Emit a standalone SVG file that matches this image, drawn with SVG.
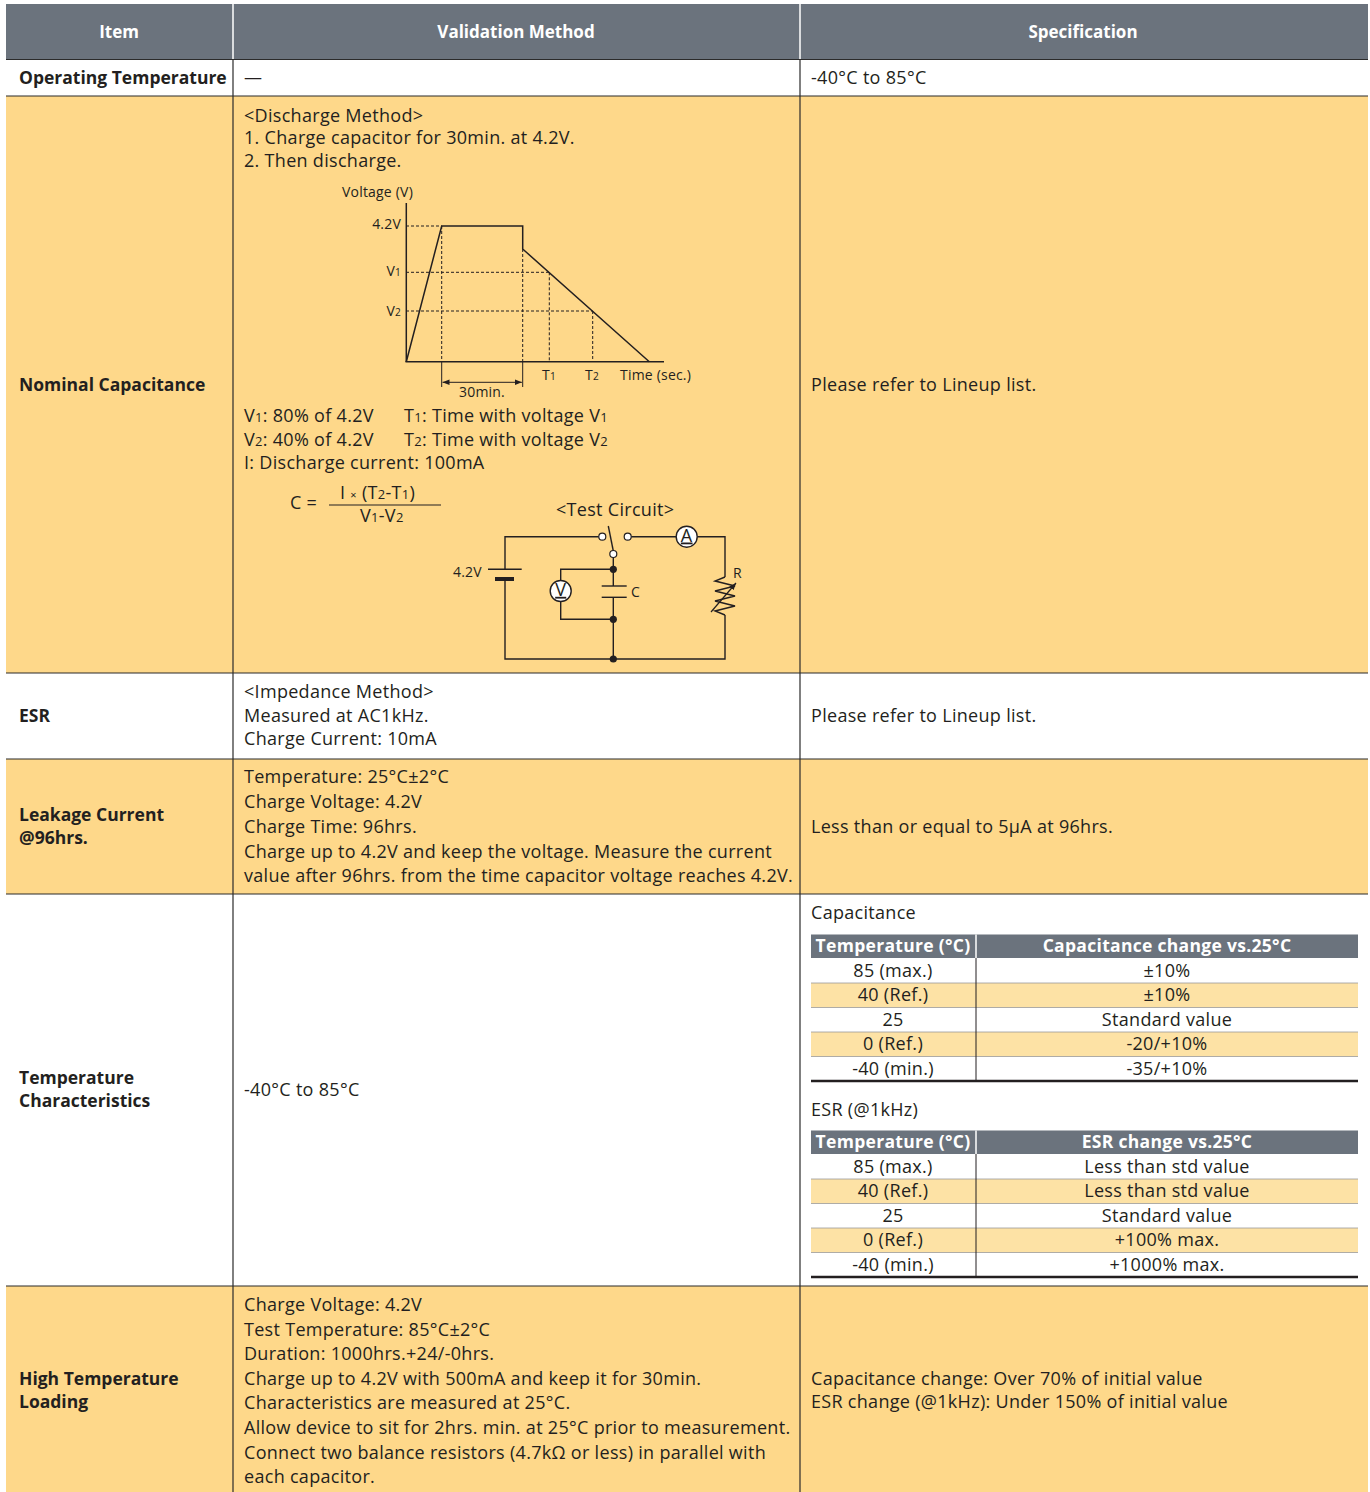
<svg xmlns="http://www.w3.org/2000/svg" width="1370" height="1492" viewBox="0 0 1370 1492">
<defs>
<style>
text{font-family:"Open Sans","Liberation Sans",Arial,sans-serif;fill:#231f20;font-size:18px;letter-spacing:0.3px}
.b{font-weight:bold;font-size:17.5px;letter-spacing:0}
.h{font-weight:bold;fill:#fff;font-size:17px;letter-spacing:0;text-anchor:middle}
.th{font-weight:bold;fill:#fff;font-size:17.5px;text-anchor:middle}
.c{text-anchor:middle}
.s{font-size:14px;letter-spacing:0.2px}
.sub{font-size:0.72em}
.grid{stroke:#2b2b2b;stroke-width:1.2;fill:none}
.ln{stroke:#231f20;stroke-width:1.5;fill:none}
.dash{stroke:#231f20;stroke-width:1;stroke-dasharray:3 2;fill:none}
.w{stroke:#231f20;stroke-width:1.4;fill:none}
.row{stroke:#9a9a9a;stroke-width:0.8}
</style>
<marker id="ah" viewBox="0 0 10 10" refX="10" refY="5" markerWidth="7" markerHeight="7" orient="auto-start-reverse" markerUnits="userSpaceOnUse"><path d="M0,1 L10,5 L0,9 z" fill="#231f20"/></marker>
</defs>
<rect width="1370" height="1492" fill="#fff"/>
<!-- row backgrounds -->
<rect x="6" y="4" width="1362" height="55" fill="#6b737d"/>
<rect x="6" y="96" width="1362" height="577" fill="#fed88a"/>
<rect x="6" y="759" width="1362" height="135" fill="#fed88a"/>
<rect x="6" y="1286" width="1362" height="206" fill="#fed88a"/>
<!-- grid -->
<g id="grid">
<line x1="233" y1="4" x2="233" y2="59" stroke="#fff" stroke-width="1.5"/>
<line x1="800" y1="4" x2="800" y2="59" stroke="#fff" stroke-width="1.5"/>
<line class="grid" x1="233" y1="59" x2="233" y2="1492"/>
<line class="grid" x1="800" y1="59" x2="800" y2="1492"/>
<line class="grid" x1="6" y1="59.5" x2="1368" y2="59.5"/>
<line class="grid" x1="6" y1="96" x2="1368" y2="96"/>
<line class="grid" x1="6" y1="673" x2="1368" y2="673"/>
<line class="grid" x1="6" y1="759" x2="1368" y2="759"/>
<line class="grid" x1="6" y1="894" x2="1368" y2="894"/>
<line class="grid" x1="6" y1="1286" x2="1368" y2="1286"/>
</g>
<!-- header -->
<g id="header">
<text class="h" x="119" y="38">Item</text>
<text class="h" x="516" y="38">Validation Method</text>
<text class="h" x="1083" y="38">Specification</text>
</g>
<g id="row-operating">
<text class="b" x="19" y="84">Operating Temperature</text>
<text x="244" y="84">—</text>
<text x="811" y="84">-40°C to 85°C</text>
</g>
<g id="row-nominal">
<text class="b" x="19" y="391">Nominal Capacitance</text>
<text x="244" y="122">&lt;Discharge Method&gt;</text>
<text x="244" y="144">1. Charge capacitor for 30min. at 4.2V.</text>
<text x="244" y="167">2. Then discharge.</text>
<text x="811" y="391">Please refer to Lineup list.</text>
</g>
<g id="graph">
<text class="s" x="342" y="197">Voltage (V)</text>
<text class="s" x="401" y="229" text-anchor="end">4.2V</text>
<text class="s" x="401" y="276" text-anchor="end">V<tspan class="sub">1</tspan></text>
<text class="s" x="401" y="316" text-anchor="end">V<tspan class="sub">2</tspan></text>
<text class="s" x="542" y="380">T<tspan class="sub">1</tspan></text>
<text class="s" x="585" y="380">T<tspan class="sub">2</tspan></text>
<text class="s" x="620" y="380">Time (sec.)</text>
<text class="s c" x="482" y="397">30min.</text>
<line class="dash" x1="406" y1="226" x2="441.7" y2="226"/>
<line class="dash" x1="406" y1="272.3" x2="549.3" y2="272.3"/>
<line class="dash" x1="406" y1="311" x2="592.7" y2="311"/>
<line class="dash" x1="441.7" y1="226" x2="441.7" y2="362"/>
<line class="dash" x1="522.7" y1="249" x2="522.7" y2="362"/>
<line class="dash" x1="549.3" y1="272.3" x2="549.3" y2="362"/>
<line class="dash" x1="592.7" y1="311" x2="592.7" y2="362"/>
<line class="ln" x1="406.3" y1="203" x2="406.3" y2="362"/>
<line class="ln" x1="405.5" y1="361.7" x2="664" y2="361.7"/>
<polyline class="ln" points="406.3,361.7 441.7,226 522.7,226 522.7,249 649.3,361.7"/>
<line stroke="#231f20" stroke-width="1" x1="441.7" y1="362" x2="441.7" y2="387"/>
<line stroke="#231f20" stroke-width="1" x1="522.7" y1="362" x2="522.7" y2="387"/>
<line stroke="#231f20" stroke-width="1" x1="442.5" y1="382.3" x2="521.9" y2="382.3" marker-start="url(#ah)" marker-end="url(#ah)"/>
</g>
<g id="legend">
<text x="244" y="422">V<tspan class="sub">1</tspan>: 80% of 4.2V</text>
<text x="404" y="422">T<tspan class="sub">1</tspan>: Time with voltage V<tspan class="sub">1</tspan></text>
<text x="244" y="446">V<tspan class="sub">2</tspan>: 40% of 4.2V</text>
<text x="404" y="446">T<tspan class="sub">2</tspan>: Time with voltage V<tspan class="sub">2</tspan></text>
<text x="244" y="469">I: Discharge current: 100mA</text>
</g>
<g id="formula">
<text x="290" y="509">C =</text>
<text x="340" y="499">I <tspan font-size="11">×</tspan> (T<tspan class="sub">2</tspan>-T<tspan class="sub">1</tspan>)</text>
<line stroke="#231f20" stroke-width="1.2" x1="329" y1="505" x2="441" y2="505"/>
<text x="360" y="522">V<tspan class="sub">1</tspan>-V<tspan class="sub">2</tspan></text>
</g>
<g id="circuit">
<text x="556" y="516">&lt;Test Circuit&gt;</text>
<text class="s" x="453" y="577">4.2V</text>
<text class="s" x="733" y="578">R</text>
<text class="s" x="631" y="597">C</text>
<polyline class="w" points="598.8,536.7 505,536.7 505,569.3"/>
<line class="w" x1="488" y1="569.3" x2="521.7" y2="569.3"/>
<line stroke="#231f20" stroke-width="4" x1="495" y1="579" x2="514" y2="579"/>
<polyline class="w" points="505,579 505,659 725,659 725,615"/>
<line class="w" x1="631.2" y1="536.7" x2="676.2" y2="536.7"/>
<polyline class="w" points="697.2,536.7 725,536.7 725,577"/>
<polyline class="w" points="725,577 715,581 735,586 715,591 735,596 715,601 735,606 715,611 725,615"/>
<line stroke="#231f20" stroke-width="1.2" x1="711" y1="612" x2="736" y2="583" marker-end="url(#ah)"/>
<line class="w" x1="613.3" y1="551" x2="608.3" y2="526"/>
<line class="w" x1="613.3" y1="557.5" x2="613.3" y2="586"/>
<line class="w" x1="601.7" y1="586" x2="626.7" y2="586"/>
<line class="w" x1="601.7" y1="597.3" x2="626.7" y2="597.3"/>
<line class="w" x1="613.3" y1="597.3" x2="613.3" y2="659"/>
<polyline class="w" points="613.3,569.3 560.7,569.3 560.7,580.5"/>
<polyline class="w" points="560.7,601.5 560.7,619.3 613.3,619.3"/>
<circle cx="602.3" cy="536.7" r="3.5" fill="#fff" stroke="#231f20" stroke-width="1.2"/>
<circle cx="627.7" cy="536.7" r="3.5" fill="#fff" stroke="#231f20" stroke-width="1.2"/>
<circle cx="613.3" cy="554" r="3.5" fill="#fff" stroke="#231f20" stroke-width="1.2"/>
<circle cx="613.3" cy="569.3" r="3.6" fill="#231f20"/>
<circle cx="613.3" cy="619.3" r="3.6" fill="#231f20"/>
<circle cx="613.3" cy="659" r="3.6" fill="#231f20"/>
<circle cx="686.7" cy="536.7" r="10.5" fill="#fff" stroke="#231f20" stroke-width="1.4"/>
<text class="c" x="686.7" y="541.5" font-size="12" letter-spacing="0" text-decoration="underline">A</text>
<circle cx="560.7" cy="591" r="10.5" fill="#fff" stroke="#231f20" stroke-width="1.4"/>
<text class="c" x="560.7" y="595.8" font-size="12" letter-spacing="0" text-decoration="underline">V</text>
</g>
<g id="row-esr">
<text class="b" x="19" y="722">ESR</text>
<text x="244" y="698">&lt;Impedance Method&gt;</text>
<text x="244" y="722">Measured at AC1kHz.</text>
<text x="244" y="745">Charge Current: 10mA</text>
<text x="811" y="722">Please refer to Lineup list.</text>
</g>
<g id="row-leakage">
<text class="b" x="19" y="821">Leakage Current</text>
<text class="b" x="19" y="844">@96hrs.</text>
<text x="244" y="783">Temperature: 25°C±2°C</text>
<text x="244" y="808">Charge Voltage: 4.2V</text>
<text x="244" y="833">Charge Time: 96hrs.</text>
<text x="244" y="858">Charge up to 4.2V and keep the voltage. Measure the current</text>
<text x="244" y="882">value after 96hrs. from the time capacitor voltage reaches 4.2V.</text>
<text x="811" y="833">Less than or equal to 5μA at 96hrs.</text>
</g>
<g id="row-temp">
<text class="b" x="19" y="1084">Temperature</text>
<text class="b" x="19" y="1107">Characteristics</text>
<text x="244" y="1096">-40°C to 85°C</text>
<text x="811" y="919">Capacitance</text>
<text x="811" y="1116">ESR (@1kHz)</text>
</g>
<g id="table-cap">
<rect x="811" y="934.5" width="547" height="23.5" fill="#6b737d"/>
<rect x="811" y="983" width="547" height="24.5" fill="#fde2a5"/>
<rect x="811" y="1032" width="547" height="24.5" fill="#fde2a5"/>
<line class="row" x1="811" y1="983" x2="1358" y2="983"/>
<line class="row" x1="811" y1="1007.5" x2="1358" y2="1007.5"/>
<line class="row" x1="811" y1="1032" x2="1358" y2="1032"/>
<line class="row" x1="811" y1="1056.5" x2="1358" y2="1056.5"/>
<line x1="976" y1="934.5" x2="976" y2="958" stroke="#fff" stroke-width="1.5"/>
<line x1="976" y1="958" x2="976" y2="1081" stroke="#231f20" stroke-width="1"/>
<line x1="811" y1="1081" x2="1358" y2="1081" stroke="#231f20" stroke-width="2.5"/>
<text class="th" x="893" y="952">Temperature (°C)</text>
<text class="th" x="1167" y="952">Capacitance change vs.25°C</text>
<text class="c" x="893" y="977">85 (max.)</text><text class="c" x="1167" y="977">±10%</text>
<text class="c" x="893" y="1001">40 (Ref.)</text><text class="c" x="1167" y="1001">±10%</text>
<text class="c" x="893" y="1026">25</text><text class="c" x="1167" y="1026">Standard value</text>
<text class="c" x="893" y="1050">0 (Ref.)</text><text class="c" x="1167" y="1050">-20/+10%</text>
<text class="c" x="893" y="1075">-40 (min.)</text><text class="c" x="1167" y="1075">-35/+10%</text>
</g>
<g id="table-esr">
<rect x="811" y="1130.5" width="547" height="23.5" fill="#6b737d"/>
<rect x="811" y="1179" width="547" height="24.5" fill="#fde2a5"/>
<rect x="811" y="1228" width="547" height="24.5" fill="#fde2a5"/>
<line class="row" x1="811" y1="1179" x2="1358" y2="1179"/>
<line class="row" x1="811" y1="1203.5" x2="1358" y2="1203.5"/>
<line class="row" x1="811" y1="1228" x2="1358" y2="1228"/>
<line class="row" x1="811" y1="1252.5" x2="1358" y2="1252.5"/>
<line x1="976" y1="1130.5" x2="976" y2="1154" stroke="#fff" stroke-width="1.5"/>
<line x1="976" y1="1154" x2="976" y2="1277" stroke="#231f20" stroke-width="1"/>
<line x1="811" y1="1277" x2="1358" y2="1277" stroke="#231f20" stroke-width="2.5"/>
<text class="th" x="893" y="1148">Temperature (°C)</text>
<text class="th" x="1167" y="1148">ESR change vs.25°C</text>
<text class="c" x="893" y="1173">85 (max.)</text><text class="c" x="1167" y="1173">Less than std value</text>
<text class="c" x="893" y="1197">40 (Ref.)</text><text class="c" x="1167" y="1197">Less than std value</text>
<text class="c" x="893" y="1222">25</text><text class="c" x="1167" y="1222">Standard value</text>
<text class="c" x="893" y="1246">0 (Ref.)</text><text class="c" x="1167" y="1246">+100% max.</text>
<text class="c" x="893" y="1271">-40 (min.)</text><text class="c" x="1167" y="1271">+1000% max.</text>
</g>
<g id="row-hightemp">
<text class="b" x="19" y="1385">High Temperature</text>
<text class="b" x="19" y="1408">Loading</text>
<text x="244" y="1311">Charge Voltage: 4.2V</text>
<text x="244" y="1336">Test Temperature: 85°C±2°C</text>
<text x="244" y="1360">Duration: 1000hrs.+24/-0hrs.</text>
<text x="244" y="1385">Charge up to 4.2V with 500mA and keep it for 30min.</text>
<text x="244" y="1409">Characteristics are measured at 25°C.</text>
<text x="244" y="1434">Allow device to sit for 2hrs. min. at 25°C prior to measurement.</text>
<text x="244" y="1459">Connect two balance resistors (4.7kΩ or less) in parallel with</text>
<text x="244" y="1483">each capacitor.</text>
<text x="811" y="1385">Capacitance change: Over 70% of initial value</text>
<text x="811" y="1408">ESR change (@1kHz): Under 150% of initial value</text>
</g>
</svg>
